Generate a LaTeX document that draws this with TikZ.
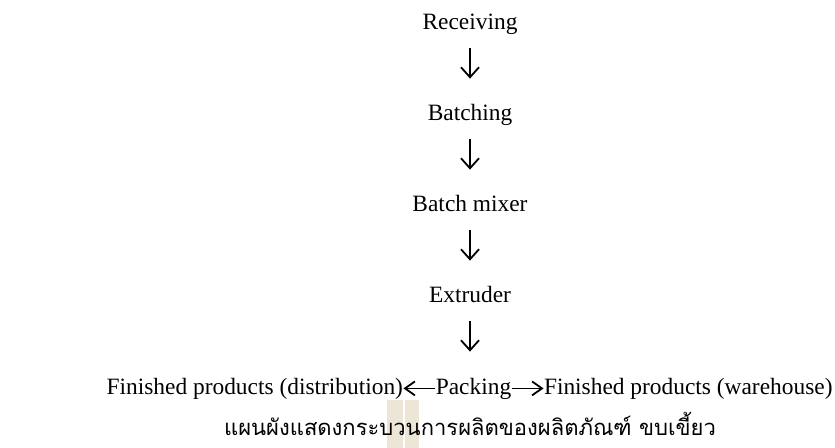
\documentclass[tikz,border=0pt]{standalone}
\usepackage{fontspec}
\setmainfont{Liberation Serif}
\newfontfamily\thaifont[Script=Thai]{Loma}
\usepackage{tikz}
\usetikzlibrary{arrows.meta}
\usetikzlibrary{positioning}
\definecolor{wmark}{RGB}{237,229,214}
\tikzstyle{stage}=[inner sep=0, text height=8.2pt, text depth=2.6pt,
                font=\fontsize{11.7pt}{14pt}\selectfont]
\tikzstyle{flow}=[-{Straight Barb[length=5pt,width=9pt,line width=0.9pt]},
                line width=0.6pt, shorten <=6.4pt, shorten >=12.8pt]
\tikzstyle{side}=[-{Straight Barb[length=5pt,width=7pt,line width=0.9pt]},
                line width=0.6pt]

\begin{document}
\begin{tikzpicture}[x=0.5pt,y=-0.5pt]
\useasboundingbox (0,0) rectangle (835,448);
% watermark strips
\fill[wmark] (387,400) rectangle (403,448);
\fill[wmark] (405,400) rectangle (419,448);
\node[stage,anchor=base] (rec) at (470,30) {Receiving};
\node[stage,anchor=base] (bat) at (470,121) {Batching};
\node[stage,anchor=base] (mix) at (470,212) {Batch mixer};
\node[stage,anchor=base] (ext) at (470,303) {Extruder};
\node[stage,anchor=base] (pack) at (473.5,394) {Packing};
\node[stage,left=16pt of pack] (dist) {Finished products (distribution)};
\node[stage,right=16pt of pack] (ware) {Finished products (warehouse)};
\foreach \a/\b in {rec/bat,bat/mix,mix/ext}
\draw[flow] (\a) -- (\b);
\draw[flow] (ext) -- (pack.north -| ext);
\draw[side] (pack) -- (dist);
\draw[side] (pack) -- (ware);
\node[anchor=base,inner sep=0,font=\thaifont\fontsize{11pt}{13pt}\selectfont]
  (cap) at (470,436) {แผนผังแสดงกระบวนการผลิตของผลิตภัณฑ์ ขบเขี้ยว};
\end{tikzpicture}
\end{document}
